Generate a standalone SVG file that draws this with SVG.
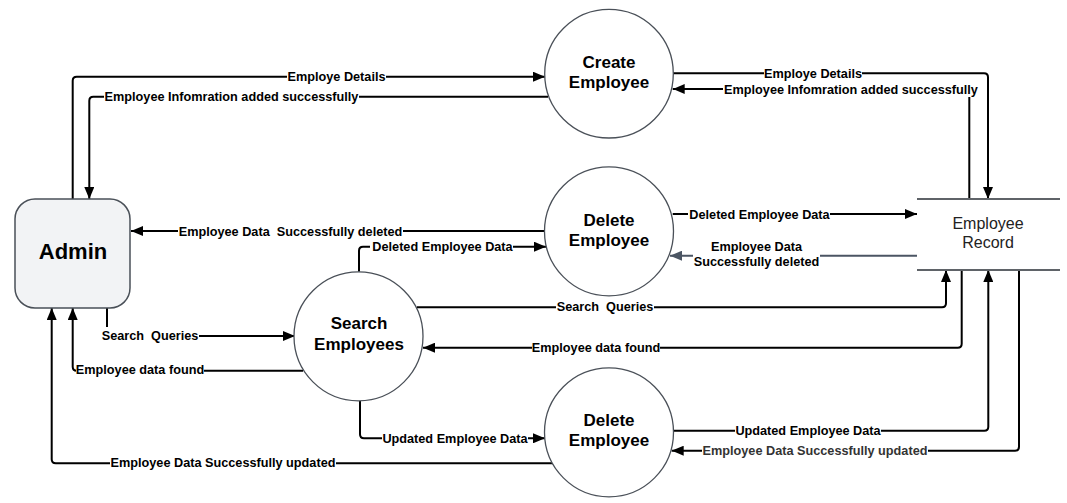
<svg xmlns="http://www.w3.org/2000/svg" width="1067" height="503" viewBox="0 0 1067 503">
<style>
.bg{fill:#ffffff}
.node{fill:#ffffff;stroke:#4a5058;stroke-width:1.3}
.admin{fill:#f2f3f5;stroke:#4a5058;stroke-width:1.5}
.store{stroke:#5f6368;stroke-width:2}
.title{font-family:"Liberation Sans",Arial,sans-serif;font-weight:bold;font-size:17px;fill:#000;text-anchor:middle}
.big{font-size:22px}
.rec{font-family:"Liberation Sans",Arial,sans-serif;font-size:16px;fill:#222;text-anchor:middle}
.wire{fill:none;stroke:#000;stroke-width:2}
.wire.gray{stroke:#4b5563}
.lbl{font-family:"Liberation Sans",Arial,sans-serif;font-weight:bold;font-size:12.7px;fill:#000;text-anchor:middle}
.lbl.dim{fill:#333}
.lb{fill:#ffffff}
</style>
<defs>
<marker id="ah" viewBox="0 0 12 10" refX="12" refY="5" markerWidth="12" markerHeight="10" markerUnits="userSpaceOnUse" orient="auto">
<path d="M0,0 L12,5 L0,10 z" fill="#000"/>
</marker>
<marker id="ahg" viewBox="0 0 12 10" refX="12" refY="5" markerWidth="12" markerHeight="10" markerUnits="userSpaceOnUse" orient="auto">
<path d="M0,0 L12,5 L0,10 z" fill="#4b5563"/>
</marker>
</defs>
<rect class="bg" x="0" y="0" width="1067" height="503"/>

<g id="connectors">
<path class="wire" d="M72.7,199 V80.7 Q72.7,76.7 76.7,76.7 H545" marker-end="url(#ah)"/>
<path class="wire" d="M548,96.7 H93.3 Q89.3,96.7 89.3,100.7 V199" marker-end="url(#ah)"/>
<path class="wire" d="M673,73.3 H984 Q988,73.3 988,77.3 V199" marker-end="url(#ah)"/>
<path class="wire" d="M969.3,199 V89 H672.7" marker-end="url(#ah)"/>
<path class="wire" d="M545,231 H131" marker-end="url(#ah)"/>
<path class="wire" d="M359,271.7 V250.7 Q359,246.7 363,246.7 H546" marker-end="url(#ah)"/>
<path class="wire" d="M672.7,214 H917" marker-end="url(#ah)"/>
<path class="wire gray" d="M917,255.7 H670" marker-end="url(#ahg)"/>
<path class="wire" d="M417,307.3 H942 Q946,307.3 946,303.3 V270" marker-end="url(#ah)"/>
<path class="wire" d="M961.7,270 V343.7 Q961.7,347.7 957.7,347.7 H423" marker-end="url(#ah)"/>
<path class="wire" d="M303,370.7 H76.7 Q72.7,370.7 72.7,366.7 V308" marker-end="url(#ah)"/>
<path class="wire" d="M107,308 V336 H295" marker-end="url(#ah)"/>
<path class="wire" d="M360,401 V434.3 Q360,438.3 364,438.3 H545" marker-end="url(#ah)"/>
<path class="wire" d="M553,463.3 H55.7 Q51.7,463.3 51.7,459.3 V308" marker-end="url(#ah)"/>
<path class="wire" d="M673.5,430.7 H984.3 Q988.3,430.7 988.3,426.7 V270" marker-end="url(#ah)"/>
<path class="wire" d="M1019,270 V446.7 Q1019,450.7 1015,450.7 H671.7" marker-end="url(#ah)"/>

<g id="labels">
<rect class="lb" x="287" y="69" width="99" height="15"/>
<text class="lbl" x="336.5" y="81">Employe Details</text>
<rect class="lb" x="104" y="89" width="255" height="15"/>
<text class="lbl" x="231.5" y="101">Employee Infomration added successfully</text>
<rect class="lb" x="764" y="66" width="98" height="14"/>
<text class="lbl" x="813" y="78">Employe Details</text>
<rect class="lb" x="723" y="81" width="256" height="16"/>
<text class="lbl" x="851" y="93.5">Employee Infomration added successfully</text>
<rect class="lb" x="178" y="223" width="225" height="15"/>
<text class="lbl" x="290.5" y="235.5" xml:space="preserve">Employee Data  Successfully deleted</text>
<rect class="lb" x="370" y="239" width="143" height="15"/>
<text class="lbl" x="442.5" y="251">Deleted Employee Data</text>
<rect class="lb" x="688" y="206" width="142" height="15"/>
<text class="lbl" x="759.5" y="218.5">Deleted Employee Data</text>
<rect class="lb" x="693" y="238" width="127" height="30"/>
<text class="lbl" x="756.5" y="251">Employee Data</text>
<text class="lbl" x="756.5" y="266">Successfully deleted</text>
<rect class="lb" x="556" y="299" width="98" height="15"/>
<text class="lbl" x="605" y="311" xml:space="preserve">Search  Queries</text>
<rect class="lb" x="532" y="340" width="128" height="15"/>
<text class="lbl" x="596" y="352">Employee data found</text>
<rect class="lb" x="76" y="362" width="128" height="15"/>
<text class="lbl" x="140" y="374">Employee data found</text>
<rect class="lb" x="100" y="327" width="99" height="16"/>
<text class="lbl" x="150" y="339.5" xml:space="preserve">Search  Queries</text>
<rect class="lb" x="382" y="431" width="146" height="15"/>
<text class="lbl" x="455" y="442.5">Updated Employee Data</text>
<rect class="lb" x="110" y="455" width="226" height="15"/>
<text class="lbl" x="223" y="467">Employee Data Successfully updated</text>
<rect class="lb" x="735" y="423" width="146" height="15"/>
<text class="lbl" x="808" y="435">Updated Employee Data</text>
<rect class="lb" x="702" y="443" width="226" height="15"/>
<text class="lbl dim" x="815" y="455">Employee Data Successfully updated</text>
</g>
</g>

<g id="admin">
<rect class="admin" x="15" y="199" width="115" height="109" rx="20" ry="20"/>
<text class="title big" x="73" y="258.5">Admin</text>
</g>
<g id="create-employee">
<circle class="node" cx="609" cy="73.7" r="64.3"/>
<text class="title" x="609" y="67.7">Create</text>
<text class="title" x="609" y="88">Employee</text>
</g>
<g id="delete-employee">
<circle class="node" cx="609" cy="231.3" r="64.5"/>
<text class="title" x="609" y="225.5">Delete</text>
<text class="title" x="609" y="246">Employee</text>
</g>
<g id="search-employees">
<circle class="node" cx="358.5" cy="336.3" r="64.5"/>
<text class="title" x="359" y="329">Search</text>
<text class="title" x="359" y="350">Employees</text>
</g>
<g id="update-employee">
<circle class="node" cx="609" cy="432.3" r="64.5"/>
<text class="title" x="609" y="425.5">Delete</text>
<text class="title" x="609" y="446">Employee</text>
</g>
<g id="employee-record">
<line class="store" x1="917" y1="199" x2="1060" y2="199"/>
<line class="store" x1="917" y1="270" x2="1060" y2="270"/>
<text class="rec" x="988" y="229">Employee</text>
<text class="rec" x="988" y="248">Record</text>
</g>
</svg>
